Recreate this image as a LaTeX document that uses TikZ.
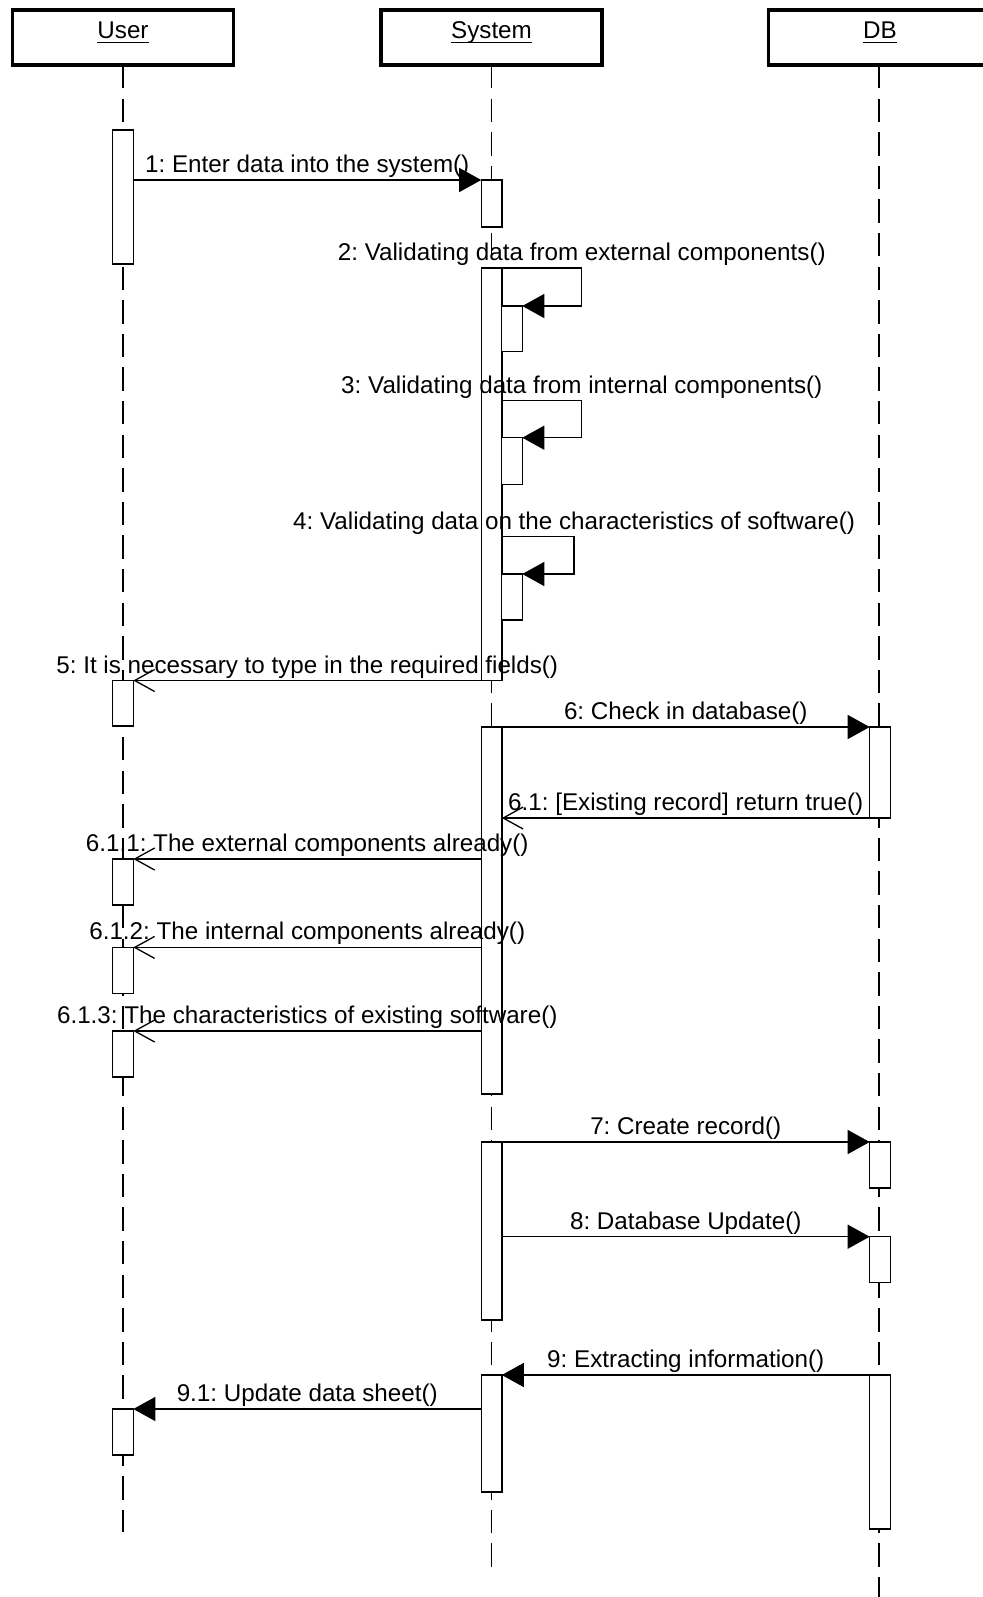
\documentclass[tikz,border=0pt]{standalone}
\usepackage{fontspec}
\setmainfont{Liberation Sans}
\usetikzlibrary{arrows.meta}
\frenchspacing

\begin{document}
\begin{tikzpicture}[x=0.5pt,y=-0.5pt,
  font=\fontsize{12.1}{14}\selectfont,
  headbox/.style={draw, line width=1.7pt, minimum width=110.35pt, minimum height=27.5pt,
    inner sep=0pt, outer sep=0pt, fill=white},
  headtext/.style={anchor=base, inner sep=0pt},
  lifeline/.style={line width=0.65pt, dash pattern=on 11.65pt off 5.15pt},
  actbar/.style={draw, fill=white, line width=0.7pt, minimum width=10.3pt,
    inner sep=0pt, outer sep=0pt, anchor=north},
  msg/.style={line width=0.65pt},
  call/.style={msg, -{Triangle[length=11pt,width=12pt]}},
  reply/.style={msg, -{Straight Barb[length=10pt,width=11pt]}},
  lbl/.style={anchor=base, inner sep=0pt, yshift=3.75pt},
]
\useasboundingbox (0,0) rectangle (983,1597);
\clip (0,0) rectangle (983,1597);

% lifeline ends
\coordinate (uend) at (123,1532);
\coordinate (send) at (491.5,1567);
\coordinate (dend) at (879,1600);

% object boxes
\node[headbox] (user)   at (123,37.5)   {};
\node[headbox] (system) at (491.5,37.5) {};
\node[headbox] (db)     at (879,37.5)   {};

% lifelines
\draw[lifeline] (user.south) -- (uend);
\draw[lifeline] (system.south) -- (send);
\draw[lifeline] (db.south) -- (dend);

% object names
\node[headtext] (tu) at (123,38.3)   {User};
\node[headtext] (ts) at (491.5,38.3) {System};
\node[headtext] (td) at (880,38.3)   {DB};
\foreach \t in {tu,ts,td}
  \draw[line width=0.6pt] ([yshift=-2pt]\t.base west) -- ([yshift=-2pt]\t.base east);

% activation bars: User
\node[actbar, minimum height=67pt]    (u1) at (123,130)    {};
\node[actbar, minimum height=22.75pt] (u2) at (123,680.5)  {};
\node[actbar, minimum height=23pt]    (u3) at (123,859)    {};
\node[actbar, minimum height=23pt]    (u4) at (123,947.4)  {};
\node[actbar, minimum height=23pt]    (u5) at (123,1031)   {};
\node[actbar, minimum height=23pt]    (u6) at (123,1409)   {};

% activation bars: System
\node[actbar, minimum height=23.5pt]   (s1) at (491.5,180)  {};
\node[actbar, minimum height=206.25pt] (s2) at (491.5,268)  {};
\node[actbar, minimum height=183.5pt]  (s3) at (491.5,727)  {};
\node[actbar, minimum height=89pt]     (s4) at (491.5,1142) {};
\node[actbar, minimum height=58.5pt]   (s5) at (491.5,1375) {};

% nested activations for the self calls
\node[actbar, minimum height=22.75pt] (n2) at (512,306)   {};
\node[actbar, minimum height=23.3pt]  (n3) at (512,437.7) {};
\node[actbar, minimum height=23pt]    (n4) at (512,574)   {};

% activation bars: DB
\node[actbar, minimum height=45.5pt] (d1) at (880,727)    {};
\node[actbar, minimum height=23pt]   (d2) at (880,1142)   {};
\node[actbar, minimum height=23pt]   (d3) at (880,1236.7) {};
\node[actbar, minimum height=77pt]   (d4) at (880,1375)   {};

% start points of the later self calls
\coordinate (l3) at (501.8,400.7);
\coordinate (l4) at (501.8,536.7);

% messages
\draw[call] (s1.north west -| u1.east) -- (s1.north west)
  node[lbl, midway] {1: Enter data into the system()};

\draw[call] (s2.north east) -- ++(80,0)
  node[lbl, at end] {2: Validating data from external components()} |- (n2.north east);
\draw[call] (l3) -- ++(80,0)
  node[lbl, at end] {3: Validating data from internal components()} |- (n3.north east);
\draw[call] (l4) -- ++(72.3,0)
  node[lbl, at end] {4: Validating data on the characteristics of software()} |- (n4.north east);

\draw[reply] (s2.south west) -- (u2.north east)
  node[lbl, midway] {5: It is necessary to type in the required fields()};

\draw[call] (s3.north east) -- (d1.north west)
  node[lbl, midway] {6: Check in database()};
\draw[reply] (d1.south west) -- (s3.east |- d1.south west)
  node[lbl, midway] {6.1: [Existing record] return true()};

\draw[reply] (s3.west |- u3.north) -- (u3.north east)
  node[lbl, midway] {6.1.1: The external components already()};
\draw[reply] (s3.west |- u4.north) -- (u4.north east)
  node[lbl, midway] {6.1.2: The internal components already()};
\draw[reply] (s3.west |- u5.north) -- (u5.north east)
  node[lbl, midway] {6.1.3: The characteristics of existing software()};

\draw[call] (s4.north east) -- (d2.north west)
  node[lbl, midway] {7: Create record()};
\draw[call] (s4.east |- d3.north) -- (d3.north west)
  node[lbl, midway] {8: Database Update()};

\draw[call] (d4.north west) -- (s5.north east)
  node[lbl, midway] {9: Extracting information()};
\draw[call] (s5.west |- u6.north) -- (u6.north east)
  node[lbl, midway] {9.1: Update data sheet()};
\end{tikzpicture}
\end{document}
